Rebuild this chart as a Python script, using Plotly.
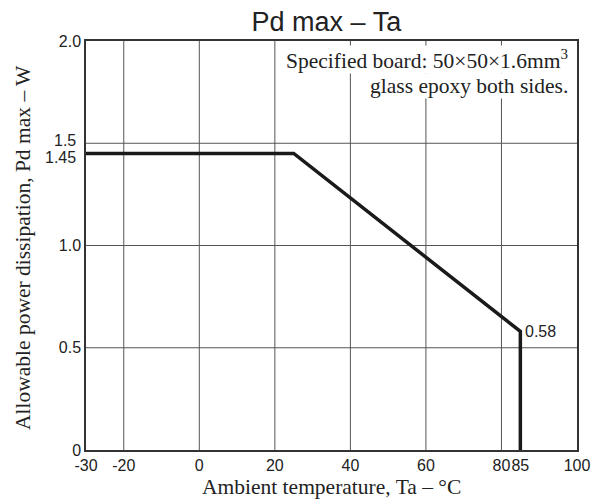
import plotly.graph_objects as go

# Data
ta = [-30, 25, 85, 85]
pd_max = [1.45, 1.45, 0.58, 0]

x_tickvals = [-30, -20, 0, 20, 40, 60, 80, 85, 100]
x_ticktext = ["-30", "-20", "0", "20", "40", "60", "80", "85", "100"]
y_tickvals = [0, 0.5, 1.0, 2.0]
y_ticktext = ["0", "0.5", "1.0", "2.0"]
y_extra_vals = [1.5, 1.45]
y_extra_text = ["1.5", "1.45"]
x_grid = [-20, 0, 20, 40, 60, 80]
y_grid = [0.5, 1.0, 1.5]

fig = go.Figure()
fig.add_trace(go.Scatter(x=ta, y=pd_max, mode="lines",
                         line=dict(color="#1a1a1a", width=3.5), showlegend=False,
                         hoverinfo="skip"))

grid_color = "#555555"
for gx in x_grid:
    fig.add_shape(type="line", xref="x", yref="y", x0=gx, x1=gx, y0=0, y1=2.0,
                  line=dict(color=grid_color, width=1), layer="below")
for gy in y_grid:
    fig.add_shape(type="line", xref="x", yref="y", x0=-30, x1=100, y0=gy, y1=gy,
                  line=dict(color=grid_color, width=1), layer="below")

serif = "Liberation Serif, Times New Roman, serif"
sans = "Liberation Sans, Arial, sans-serif"
txt = "#222222"

fig.add_annotation(x=0.983, y=0.955, xref="paper", yref="paper",
                   text="Specified board: 50×50×1.6mm<sup>3</sup>",
                   showarrow=False, xanchor="right", yanchor="middle",
                   font=dict(family=serif, size=21.5, color=txt),
                   bgcolor="white", borderpad=0)
fig.add_annotation(x=0.983, y=0.889, xref="paper", yref="paper",
                   text="glass epoxy both sides.",
                   showarrow=False, xanchor="right", yanchor="middle",
                   font=dict(family=serif, size=21.5, color=txt),
                   bgcolor="white", borderpad=0)
fig.add_annotation(x=85, y=0.58, xref="x", yref="y", text="0.58",
                   showarrow=False, xanchor="left", yanchor="middle",
                   xshift=3,
                   font=dict(family=sans, size=16, color=txt))

# y tick labels for the closely spaced values 1.5 and 1.45
for v, t, dy in zip(y_extra_vals, y_extra_text, [3, -4]):
    fig.add_annotation(x=0, y=v, xref="paper", yref="y", text=t,
                       showarrow=False, xanchor="right", yanchor="middle",
                       xshift=-8, yshift=dy,
                       font=dict(family=sans, size=16, color=txt))

# axis titles
fig.add_annotation(x=0.5, y=0, xref="paper", yref="paper",
                   text="Ambient temperature, Ta – °C",
                   showarrow=False, xanchor="center", yanchor="middle", yshift=-37,
                   font=dict(family=serif, size=21.5, color=txt))
fig.add_annotation(x=0, y=0.495, xref="paper", yref="paper",
                   text="Allowable power dissipation, Pd max – W", textangle=-90,
                   showarrow=False, xanchor="center", yanchor="middle", xshift=-63.5,
                   font=dict(family=serif, size=21.5, color=txt))

fig.update_layout(
    width=594, height=493,
    margin=dict(l=78, r=25, t=33, b=51),
    paper_bgcolor="white", plot_bgcolor="white",
    title=dict(text="Pd max – Ta", x=0.536, xanchor="center", xref="container",
               y=0.972, yanchor="middle", yref="container",
               font=dict(family=sans, size=27, color=txt)),
    xaxis=dict(range=[-30, 100], tickvals=x_tickvals, ticktext=x_ticktext,
               showgrid=False, zeroline=False, showline=True, mirror=True,
               linecolor="#333333", linewidth=1.5, ticks="", tickangle=0,
               tickfont=dict(family=sans, size=16, color=txt)),
    yaxis=dict(range=[0, 2.0], tickvals=y_tickvals, ticktext=y_ticktext,
               showgrid=False, zeroline=False, showline=True, mirror=True,
               linecolor="#333333", linewidth=1.5, ticks="",
               tickfont=dict(family=sans, size=16, color=txt)),
)

fig.write_html("out.html")
